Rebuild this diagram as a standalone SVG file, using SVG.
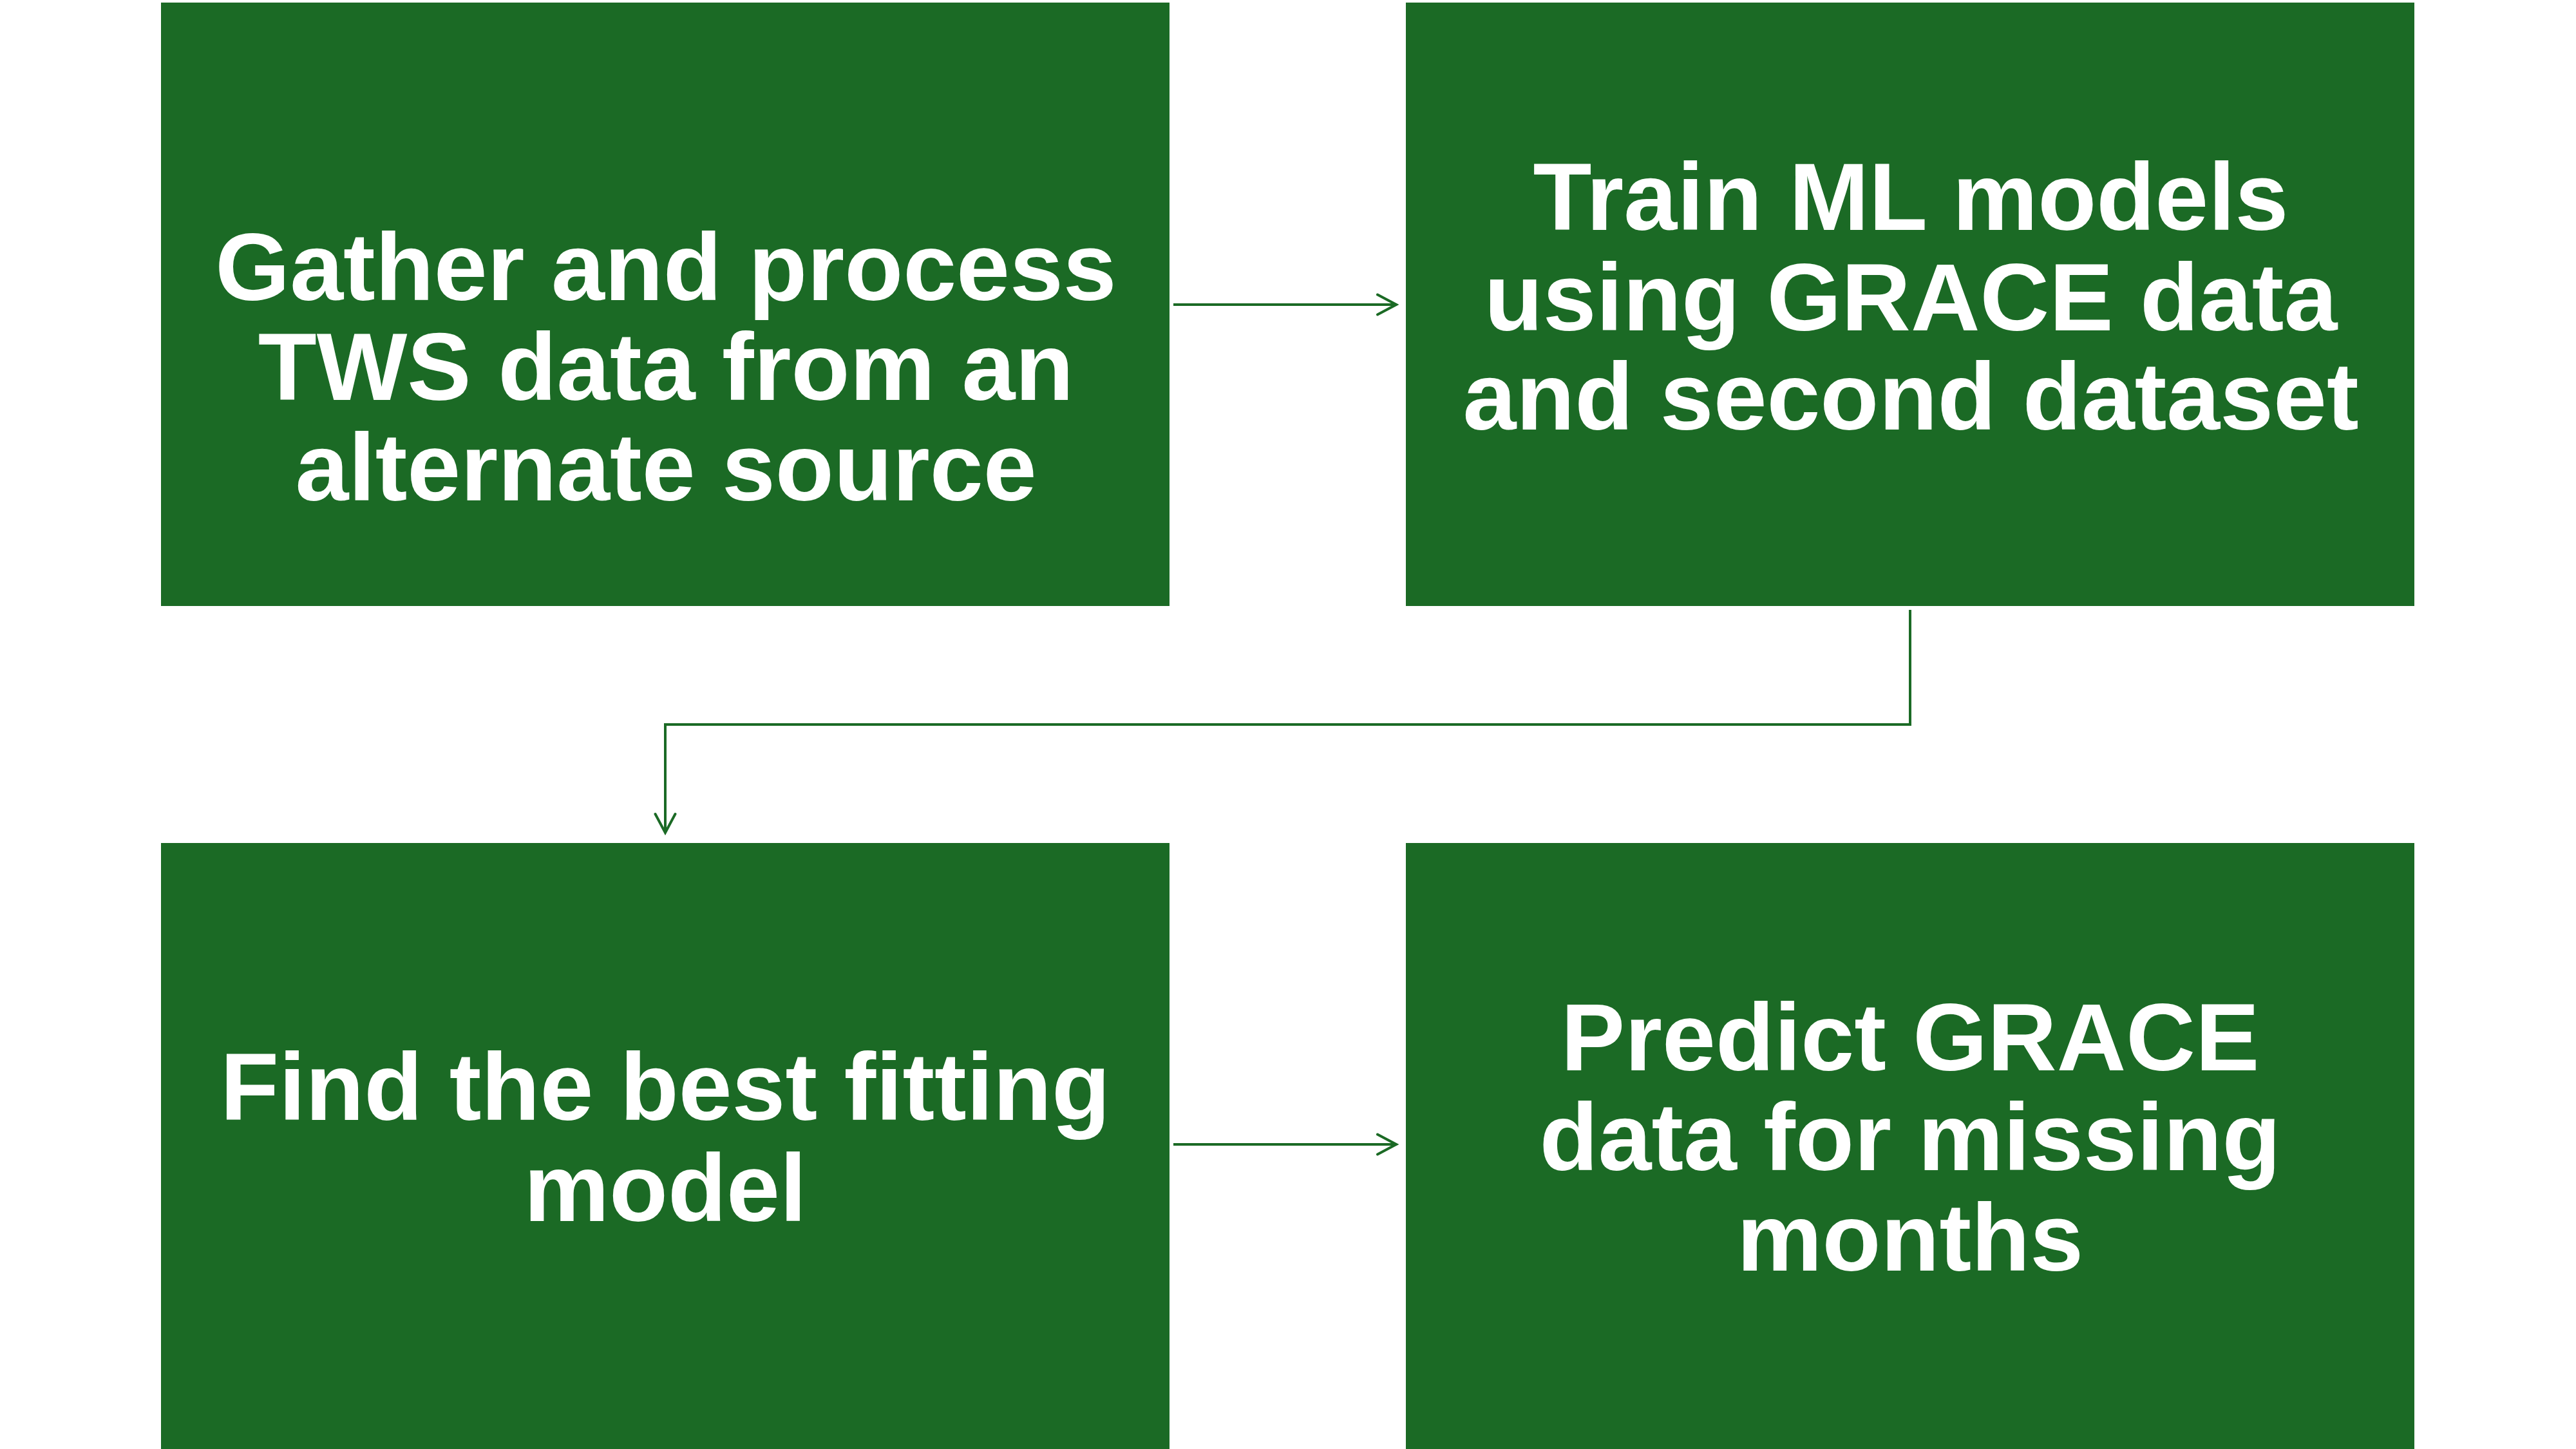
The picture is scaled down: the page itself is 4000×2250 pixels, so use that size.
<svg xmlns="http://www.w3.org/2000/svg" width="4000" height="2250" viewBox="0 0 4000 2250">
  <style>
    .box { fill: #1B6A25; }
    .lbl { font-family: "Liberation Sans", Arial, sans-serif; font-weight: bold; font-size: 149px; fill: #FFFFFF; text-anchor: middle; }
    .conn { fill: none; stroke: #1B6A25; stroke-width: 4; }
  </style>
  <defs>
    <marker id="arrow" markerUnits="userSpaceOnUse" viewBox="-36 -20 40 40" refX="0" refY="0" markerWidth="40" markerHeight="40" orient="auto">
      <path d="M-29,-15.5 L0,0 L-29,15.5" fill="none" stroke="#1B6A25" stroke-width="4" stroke-linecap="round" stroke-linejoin="miter"/>
    </marker>
  </defs>
  <rect width="4000" height="2250" fill="#FFFFFF"/>

  <g id="node-gather">
    <rect class="box" x="250" y="4" width="1566" height="937"/>
    <text class="lbl" x="1034" y="466">Gather and process</text>
    <text class="lbl" x="1034" y="621">TWS data from an</text>
    <text class="lbl" x="1034" y="777">alternate source</text>
  </g>

  <g id="node-train">
    <rect class="box" x="2183" y="4" width="1566" height="937"/>
    <text class="lbl" x="2967" y="357">Train ML models</text>
    <text class="lbl" x="2967" y="513">using GRACE data</text>
    <text class="lbl" x="2967" y="667">and second dataset</text>
  </g>

  <g id="node-find">
    <rect class="box" x="250" y="1309" width="1566" height="941"/>
    <text class="lbl" x="1033" y="1739">Find the best fitting</text>
    <text class="lbl" x="1033" y="1896">model</text>
  </g>

  <g id="node-predict">
    <rect class="box" x="2183" y="1309" width="1566" height="941"/>
    <text class="lbl" x="2966" y="1662">Predict GRACE</text>
    <text class="lbl" x="2966" y="1817">data for missing</text>
    <text class="lbl" x="2966" y="1973">months</text>
  </g>

  <g id="connectors">
    <path class="conn" d="M1822,473 L2168,473" marker-end="url(#arrow)"/>
    <path class="conn" d="M2966,947 L2966,1125 L1033,1125 L1033,1293" marker-end="url(#arrow)"/>
    <path class="conn" d="M1822,1777 L2168,1777" marker-end="url(#arrow)"/>
  </g>
</svg>
